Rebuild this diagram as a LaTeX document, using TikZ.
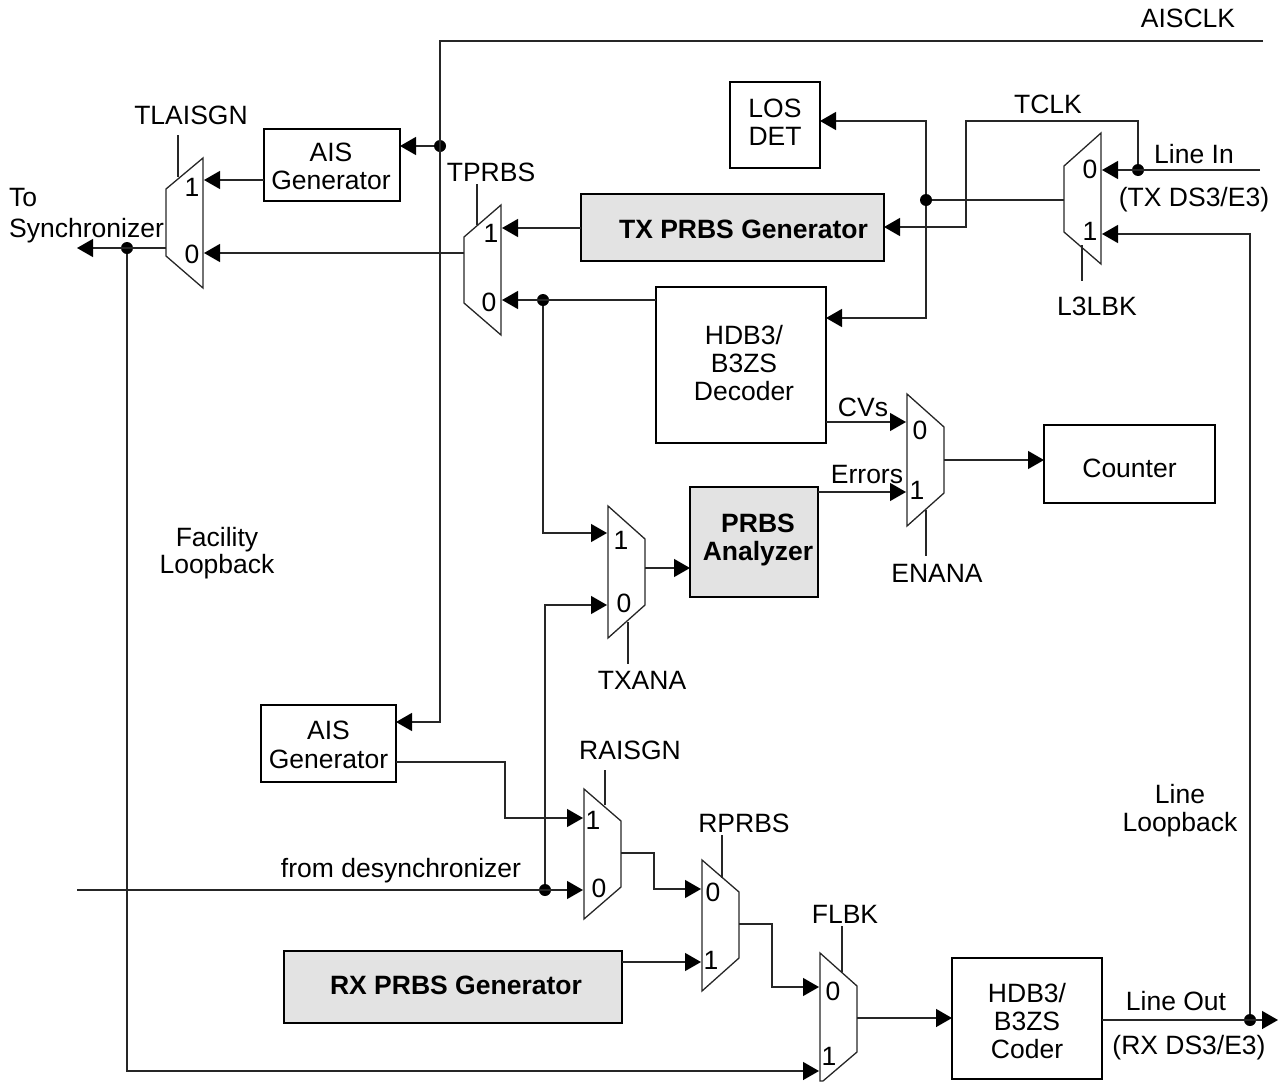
\documentclass[tikz,border=0pt]{standalone}
\usepackage{fontspec}
\setmainfont{Liberation Sans}
\usetikzlibrary{arrows.meta,calc}
\tikzset{
  wire/.style={line width=1.3pt,draw=black!85},
  sig/.style={wire,-{Triangle[length=16pt,width=18pt,color=black,fill=black]}},
  muxbody/.style={line width=1.3pt,draw=black!85,line join=miter},
  block/.style={draw=black,line width=2pt,inner sep=0pt,outer sep=0pt,align=center},
  shaded/.style={block,fill=black!11,font=\bfseries\mainsize},
  txt/.style={inner sep=0pt,anchor=base,align=center},
  junction/.style={circle,fill=black,inner sep=0pt,minimum size=12pt},
}
\newcommand{\mainsize}{\fontsize{26.5}{28}\selectfont}
% \lbl{name}{x}{capcentre y}{text}
\newcommand{\lbl}[4]{\node[txt] (#1) at (#2,#3+9.4) {#4};}
% \muxshape{name}{xl}{xr}{y left top}{y left bottom}{y right top}{y right bottom}
\newcommand{\muxshape}[7]{%
  \draw[muxbody] (#2,#4) -- (#3,#6) -- (#3,#7) -- (#2,#5) -- cycle;
  \coordinate (#1l) at (#2,#4);
  \coordinate (#1r) at (#3,#6);}
\begin{document}
\begin{tikzpicture}[x=1pt,y=-1pt,font=\mainsize]
\useasboundingbox (0,0) rectangle (1283,1082);
% blocks
\node[block,text height=40.8pt,text depth=0pt,minimum width=90pt,minimum height=86pt] (los) at (775,125) {LOS\\DET};
\node[block,text height=48.8pt,text depth=0pt,minimum width=136pt,minimum height=72pt] (aist) at (332,165) {\hspace*{-2pt}AIS\\\hspace*{-2pt}Generator};
\node[shaded,text height=21.8pt,text depth=0pt,minimum width=303pt,minimum height=67pt] (txp) at (732.5,227.5) {\hspace*{22pt}TX PRBS Generator};
\node[block,text height=70.8pt,text depth=0pt,minimum width=170pt,minimum height=156pt] (dec) at (741,365) {\hspace*{6pt}HDB3/\\\hspace*{6pt}B3ZS\\\hspace*{6pt}Decoder};
\node[block,text height=26.8pt,text depth=0pt,minimum width=171pt,minimum height=78pt] (cnt) at (1129.5,464) {Counter};
\node[shaded,text height=36.8pt,text depth=0pt,minimum width=128pt,minimum height=110pt] (ana) at (754,542) {\hspace*{8pt}PRBS\\\hspace*{8pt}Analyzer};
\node[block,text height=49.8pt,text depth=0pt,minimum width=135pt,minimum height=77pt] (aisb) at (328.5,743.5) {AIS\\[1pt]Generator};
\node[shaded,text height=14.8pt,text depth=0pt,minimum width=338pt,minimum height=72pt] (rxp) at (453,987) {\hspace*{6pt}RX PRBS Generator};
\node[block,text height=79.8pt,text depth=0pt,minimum width=150pt,minimum height=121pt] (cod) at (1027,1018.5) {HDB3/\\B3ZS\\Coder};
% multiplexers
\muxshape{ma}{166}{203}{189}{256}{158}{288}
\muxshape{mb}{464}{501}{237}{303}{205}{335}
\muxshape{mc}{1064}{1101}{166}{232}{133}{264}
\muxshape{md}{907}{944}{394}{526}{427}{493}
\muxshape{me}{608}{645}{506}{638}{539}{605}
\muxshape{mf}{584}{621}{789}{919}{821}{887}
\muxshape{mg}{702}{739}{860}{991}{892}{958}
\draw[muxbody] (820,953) -- (857,986) -- (857,1052) -- (823,1081) -- (820,1081) -- cycle;
% ports
\coordinate (a1) at (204,180); \coordinate (a0) at (204,253); \coordinate (aout) at (166,248);
\coordinate (b1) at (502,228); \coordinate (b0) at (502,300); \coordinate (bout) at (464,253);
\coordinate (c0) at (1102,170); \coordinate (c1) at (1102,234); \coordinate (cout) at (1064,200);
\coordinate (d0) at (906,422); \coordinate (d1) at (906,492); \coordinate (dout) at (944,460);
\coordinate (e1) at (607,533); \coordinate (e0) at (607,605); \coordinate (eout) at (645,568);
\coordinate (f1) at (583,818); \coordinate (f0) at (583,890); \coordinate (fout) at (621,853);
\coordinate (g0) at (701,889); \coordinate (g1) at (701,962); \coordinate (gout) at (739,924);
\coordinate (h0) at (819,987); \coordinate (h1) at (819,1071); \coordinate (hout) at (857,1018);
% free ends
\coordinate (clkin) at (1263,41);
\coordinate (linein) at (1260,170);
\coordinate (tosync) at (77,248);
\coordinate (desync) at (77,890);
\coordinate (lineout) at (1278,1020);
% junctions
\node[junction] (j1) at (440,146) {};
\node[junction] (j2) at (127,248) {};
\node[junction] (j3) at (543,300) {};
\node[junction] (j4) at (545,890) {};
\node[junction] (j5) at (926,200) {};
\node[junction] (j6) at (1138,170) {};
\node[junction] (j7) at (1250,1020) {};
% connectors
\draw[sig] (clkin) -- (440,41) -- (440,722) -- (aisb.east |- 0,722);
\draw[sig] (j1) -- (aist.east |- j1);
\draw[sig] (aist.west |- a1) -- (a1);
\draw[sig] (bout) -- (a0);
\draw[sig] (aout) -- (tosync);
\draw[sig] (j2) -- (127,1071) -- (h1);
\draw[sig] (txp.west |- b1) -- (b1);
\draw[sig] (dec.west |- b0) -- (b0);
\draw[sig] (j3) -- (j3 |- e1) -- (e1);
\draw[sig] (desync) -- (f0);
\draw[sig] (j4) -- (j4 |- e0) -- (e0);
\draw[sig] (aisb.east |- 0,762) -- (505,762) -- (505,818) -- (f1);
\draw[sig] (fout) -- (654,853) -- (654,889) -- (g0);
\draw[sig] (gout) -- (772,924) -- (772,987) -- (h0);
\draw[sig] (rxp.east |- g1) -- (g1);
\draw[sig] (hout) -- (cod.west |- hout);
\draw[sig] (cod.east |- lineout) -- (lineout);
\draw[sig] (j7) -- (j7 |- c1) -- (c1);
\draw[sig] (linein) -- (c0);
\draw[sig] (j6) -- (1138,121) -- (966,121) -- (966,227) -- (txp.east |- 0,227);
\draw[wire] (cout) -- (j5);
\draw[sig] (j5) -- (926,121) -- (los.east |- 0,121);
\draw[sig] (j5) -- (926,318) -- (dec.east |- 0,318);
\draw[sig] (dec.east |- d0) -- (d0);
\draw[sig] (ana.east |- d1) -- (d1);
\draw[sig] (dout) -- (cnt.west |- dout);
\draw[sig] (eout) -- (ana.west |- eout);
% select lines
\draw[wire] (178,135) -- (178,177);
\draw[wire] (477,184) -- (477,225);
\draw[wire] (1082,245) -- (1082,281);
\draw[wire] (926,510) -- (926,556);
\draw[wire] (628,622) -- (628,664);
\draw[wire] (605,770) -- (605,805);
\draw[wire] (722,835) -- (722,878);
\draw[wire] (842,926) -- (842,972);
% labels
\lbl{t1}{1188}{18}{AISCLK}
\lbl{t2}{191}{115}{TLAISGN}
\node[inner sep=0pt,anchor=base west] (t3) at (9,206.4) {To};
\node[inner sep=0pt,anchor=base west] (t4) at (9,237.4) {Synchronizer};
\lbl{t5}{491}{172}{TPRBS}
\lbl{t6}{1048}{104}{TCLK}
\lbl{t7}{1194}{154}{Line In}
\lbl{t8}{1194}{197}{(TX DS3/E3)}
\lbl{t9}{1097}{306}{L3LBK}
\lbl{t10}{863}{407}{CVs}
\lbl{t11}{867}{474}{Errors}
\lbl{t12}{937}{573}{ENANA}
\lbl{t13}{642}{680}{TXANA}
\lbl{t14}{217}{537}{Facility}
\lbl{t15}{217}{564}{Loopback}
\lbl{t16}{630}{750}{RAISGN}
\lbl{t17}{744}{823}{RPRBS}
\lbl{t18}{845}{914}{FLBK}
\lbl{t19}{401}{868}{from desynchronizer}
\lbl{t20}{1176}{1001}{Line Out}
\lbl{t21}{1189}{1045}{(RX DS3/E3)}
\lbl{t22}{1180}{794}{Line}
\lbl{t23}{1180}{822}{Loopback}
% port digits
\lbl{n1}{192}{187}{1}
\lbl{n2}{192}{254}{0}
\lbl{n3}{491}{233}{1}
\lbl{n4}{489}{302}{0}
\lbl{n5}{1090}{169}{0}
\lbl{n6}{1090}{231}{1}
\lbl{n7}{920}{430}{0}
\lbl{n8}{917}{490}{1}
\lbl{n9}{621}{540}{1}
\lbl{n10}{624}{603}{0}
\lbl{n11}{593}{820}{1}
\lbl{n12}{599}{888}{0}
\lbl{n13}{713}{892}{0}
\lbl{n14}{711}{960}{1}
\lbl{n15}{833}{991}{0}
\lbl{n16}{829}{1056}{1}
\end{tikzpicture}
\end{document}
